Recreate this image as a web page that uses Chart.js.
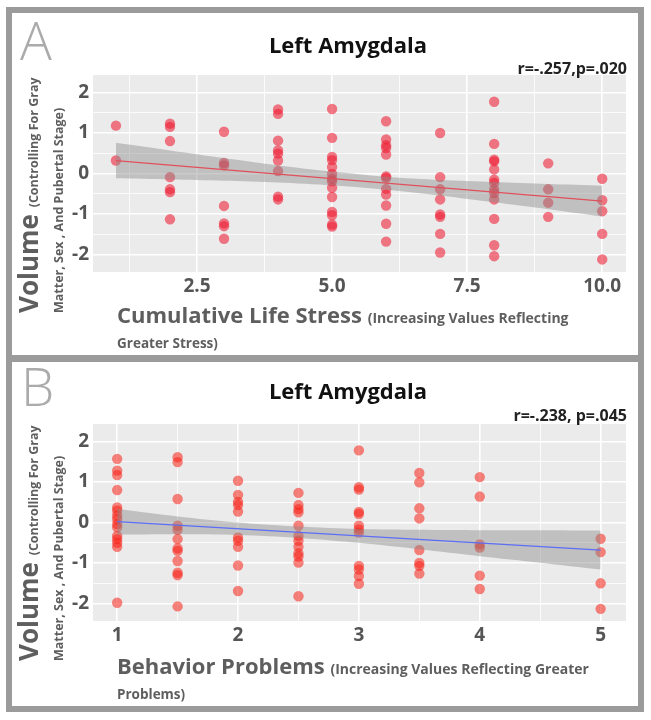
<!DOCTYPE html>
<html>
<head>
<meta charset="utf-8">
<script src="https://cdn.jsdelivr.net/npm/chart.js@4.4.1/dist/chart.umd.min.js"></script>
<style>
  body { margin: 0; background: #fff; font-family: "Open Sans", sans-serif; }
  .abs { position: absolute; }
  #frame { left: 6px; top: 7px; width: 638px; height: 705px; background: #9b9b9b; }
  .panel { left: 12px; width: 626px; background: #fff; }
  .letter { font-size: 53px; font-weight: 300; line-height: 53px; color: #ababab; }
  .title { font-size: 22px; font-weight: bold; line-height: 22px; color: #111; transform: translateX(-50%); white-space: nowrap; }
  .stat { font-size: 16px; font-weight: bold; line-height: 16px; color: #222; transform: translateX(-100%); white-space: nowrap; }
  .xtitle { color: #5e5e5e; font-weight: bold; white-space: nowrap; }
  .xtitle .l1 { font-size: 22px; line-height: 28px; }
  .xtitle .l2 { font-size: 13.5px; line-height: 22px; }
  .xtitle .small { font-size: 14px; }
  .ytitle { color: #5e5e5e; font-weight: bold; white-space: nowrap; transform-origin: 0 0; transform: rotate(-90deg); }
  .ytitle .l1 { font-size: 26px; line-height: 32px; }
  .ytitle .l2 { font-size: 12.5px; line-height: 18px; }
  .ytitle .small { font-size: 12.5px; }
</style>
</head>
<body>
<div id="frame" class="abs"></div>
<div class="abs panel" style="top:13px;height:342px;"></div>
<div class="abs panel" style="top:362px;height:344px;"></div>

<canvas id="chartA" class="abs" width="626" height="342" style="left:12px;top:13px;"></canvas>
<canvas id="chartB" class="abs" width="626" height="344" style="left:12px;top:362px;"></canvas>

<div class="abs letter" style="left:20px;top:13px;">A</div>
<div class="abs title" style="left:348px;top:33px;">Left Amygdala</div>
<div class="abs stat" style="left:627px;top:60px;">r=-.257,p=.020</div>
<div class="abs ytitle" style="left:12px;top:313px;">
  <div class="l1">Volume <span class="small">(Controlling For Gray</span></div>
  <div class="l2">Matter, Sex , And Pubertal Stage)</div>
</div>
<div class="abs xtitle" style="left:117px;top:300px;">
  <div class="l1">Cumulative Life Stress <span class="small">(Increasing Values Reflecting</span></div>
  <div class="l2">Greater Stress)</div>
</div>

<div class="abs letter" style="left:21px;top:359px;">B</div>
<div class="abs title" style="left:348px;top:379px;">Left Amygdala</div>
<div class="abs stat" style="left:627px;top:407px;">r=-.238, p=.045</div>
<div class="abs ytitle" style="left:12px;top:661px;">
  <div class="l1">Volume <span class="small">(Controlling For Gray</span></div>
  <div class="l2">Matter, Sex , And Pubertal Stage)</div>
</div>
<div class="abs xtitle" style="left:117px;top:651px;">
  <div class="l1">Behavior Problems <span class="small">(Increasing Values Reflecting Greater</span></div>
  <div class="l2">Problems)</div>
</div>

<script>
// Panel A: cumulative life stress vs volume
const stressLevels = [1, 2, 3, 4, 5, 6, 7, 8, 9, 10];
const stressVolumes = [
  [1.18, 0.32],
  [1.23, 1.15, 0.80, -0.09, -0.39, -0.46, -1.13],
  [1.03, 0.26, 0.20, -0.80, -1.23, -1.30, -1.61],
  [1.58, 1.47, 0.81, 0.57, 0.49, 0.32, 0.06, -0.57, -0.64],
  [1.59, 0.88, 0.41, 0.33, 0.16, -0.01, -0.13, -0.19, -0.35, -0.58, -0.95, -1.03, -1.26, -1.31],
  [1.29, 0.84, 0.70, 0.63, 0.47, -0.07, -0.11, -0.38, -0.52, -0.79, -1.24, -1.68],
  [1.00, -0.09, -0.39, -0.64, -1.01, -1.07, -1.49, -1.95],
  [1.77, 0.73, 0.34, 0.30, 0.10, -0.15, -0.23, -0.39, -0.48, -0.64, -1.12, -1.77, -2.04],
  [0.25, -0.39, -0.72, -1.07],
  [-0.13, -0.66, -0.93, -1.49, -2.12]
];
const stressFitX = [1, 10];
const stressFitY = [0.32, -0.68];
const stressBandX = [1, 2, 3, 4, 5, 6, 7, 8, 9, 10];
const stressBandHi = [0.76, 0.57, 0.38, 0.20, 0.05, -0.08, -0.16, -0.21, -0.26, -0.30];
const stressBandLo = [-0.12, -0.15, -0.18, -0.22, -0.29, -0.40, -0.54, -0.71, -0.88, -1.06];
const stressTicks = [1.25, 2.5, 3.75, 5, 6.25, 7.5, 8.75, 10];
const stressLabels = [2.5, 5, 7.5, 10];

// Panel B: behavior problems vs volume
const behaviorLevels = [1, 1.5, 2, 2.5, 3, 3.5, 4, 5];
const behaviorVolumes = [
  [1.57, 1.28, 1.17, 0.80, 0.37, 0.29, 0.17, 0.08, -0.04, -0.12, -0.33, -0.41, -0.50, -0.60, -1.98],
  [1.61, 1.49, 0.58, -0.08, -0.18, -0.41, -0.64, -0.70, -0.95, -1.24, -1.30, -2.07],
  [1.03, 0.68, 0.51, 0.43, 0.27, -0.37, -0.45, -0.60, -1.06, -1.69],
  [0.73, 0.43, 0.33, 0.25, -0.08, -0.33, -0.45, -0.60, -0.76, -0.84, -0.99, -1.82],
  [1.78, 0.87, 0.81, 0.26, 0.21, -0.08, -0.17, -0.25, -1.07, -1.16, -1.32, -1.51],
  [1.22, 0.99, 0.35, 0.10, -0.68, -1.00, -1.07, -1.26],
  [1.12, 0.64, -0.54, -0.62, -1.31, -1.64],
  [-0.40, -0.73, -1.50, -2.13]
];
const behaviorFitX = [1, 5];
const behaviorFitY = [0.02, -0.68];
const behaviorBandX = [1, 1.5, 2, 2.5, 3, 3.5, 4, 4.5, 5];
const behaviorBandHi = [0.34, 0.15, 0.00, -0.10, -0.16, -0.18, -0.19, -0.19, -0.20];
const behaviorBandLo = [-0.30, -0.29, -0.31, -0.38, -0.50, -0.66, -0.83, -0.99, -1.16];
const behaviorTicks = [1, 1.5, 2, 2.5, 3, 3.5, 4, 4.5, 5];
const behaviorLabels = [1, 2, 3, 4, 5];

const volumeTicks = [-2, -1.5, -1, -0.5, 0, 0.5, 1, 1.5, 2];

// gray panel behind the grid
const panelBg = {
  id: 'panelBg',
  beforeDraw(chart) {
    const { ctx, chartArea: a } = chart;
    ctx.save();
    ctx.fillStyle = '#ebebeb';
    ctx.fillRect(a.left, a.top, a.right - a.left, a.bottom - a.top);
    ctx.restore();
  }
};

function pairs(xs, ys) {
  return xs.map((x, i) => ({ x: x, y: ys[i] }));
}

function buildPoints(levels, groups) {
  const pts = [];
  levels.forEach((x, i) => groups[i].forEach(y => pts.push({ x: x, y: y })));
  return pts;
}

const tickFont = { family: 'Open Sans', weight: 'bold', size: 19 };

function makeChart(id, cfg) {
  return new Chart(document.getElementById(id), {
    type: 'scatter',
    data: {
      datasets: [
        { type: 'line', data: pairs(cfg.fitX, cfg.fitY), borderColor: cfg.lineColor, borderWidth: 1.2,
          pointRadius: 0, fill: false, order: 0 },
        { type: 'line', data: pairs(cfg.bandX, cfg.bandHi), borderColor: 'rgba(0,0,0,0)', borderWidth: 0,
          pointRadius: 0, fill: '+1', backgroundColor: 'rgba(140,140,140,0.45)', tension: 0.3, order: 1 },
        { type: 'line', data: pairs(cfg.bandX, cfg.bandLo), borderColor: 'rgba(0,0,0,0)', borderWidth: 0,
          pointRadius: 0, fill: false, tension: 0.3, order: 2 },
        { data: buildPoints(cfg.levels, cfg.groups), backgroundColor: cfg.pointColor,
          borderColor: 'rgba(0,0,0,0)', borderWidth: 0, pointRadius: 5.2, order: 3 }
      ]
    },
    options: {
      responsive: false,
      animation: false,
      events: [],
      layout: { padding: { top: 62, right: 12, bottom: cfg.padBottom, left: 0 } },
      plugins: { legend: { display: false }, tooltip: { enabled: false } },
      scales: {
        x: {
          type: 'linear', min: cfg.xMin, max: cfg.xMax,
          afterBuildTicks: s => { s.ticks = cfg.xTicks.map(v => ({ value: v })); },
          afterFit: s => { s.height = 30; },
          border: { display: false },
          grid: { color: '#fff', drawTicks: false,
                  lineWidth: c => cfg.xLabels.includes(c.tick.value) ? 1.6 : 0.8 },
          ticks: { autoSkip: false, maxRotation: 0, padding: 3, color: '#555', font: tickFont,
                   callback: v => cfg.xLabels.includes(v) ? cfg.fmt(v) : '' }
        },
        y: {
          type: 'linear', min: -2.43, max: 2.43,
          afterBuildTicks: s => { s.ticks = volumeTicks.map(v => ({ value: v })); },
          afterFit: s => { s.width = 81; },
          border: { display: false },
          grid: { color: '#fff', drawTicks: false,
                  lineWidth: c => Number.isInteger(c.tick.value) ? 1.6 : 0.8 },
          ticks: { autoSkip: false, padding: 4, color: '#555', font: tickFont,
                   callback: v => Number.isInteger(v) ? String(v) : '' }
        }
      }
    },
    plugins: [panelBg]
  });
}

makeChart('chartA', {
  levels: stressLevels, groups: stressVolumes,
  fitX: stressFitX, fitY: stressFitY,
  bandX: stressBandX, bandHi: stressBandHi, bandLo: stressBandLo,
  xTicks: stressTicks, xLabels: stressLabels, fmt: v => v.toFixed(1),
  xMin: 0.575, xMax: 10.44, padBottom: 53,
  pointColor: 'rgba(237, 28, 50, 0.58)', lineColor: '#e0505a'
});

makeChart('chartB', {
  levels: behaviorLevels, groups: behaviorVolumes,
  fitX: behaviorFitX, fitY: behaviorFitY,
  bandX: behaviorBandX, bandHi: behaviorBandHi, bandLo: behaviorBandLo,
  xTicks: behaviorTicks, xLabels: behaviorLabels, fmt: v => String(v),
  xMin: 0.8, xMax: 5.21, padBottom: 55,
  pointColor: 'rgba(247, 32, 22, 0.55)', lineColor: '#5b6ef5'
});
</script>
</body>
</html>
